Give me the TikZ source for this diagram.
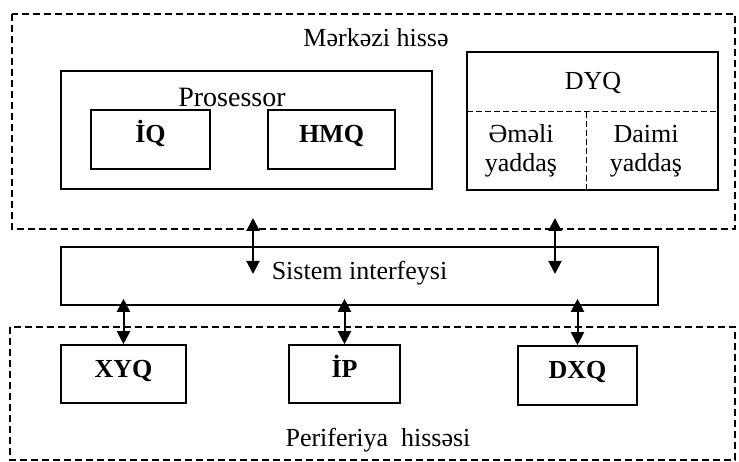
\documentclass[tikz,border=0pt]{standalone}
\usepackage{fontspec}
\setmainfont{Liberation Serif}
\usetikzlibrary{arrows.meta,positioning}
\tikzset{
  blk/.style={draw, line width=1.6pt, inner sep=0pt, text height=0.68em, text depth=0pt,
    font=\fontsize{26}{29}\selectfont\bfseries},
  area/.style={draw, line width=1.4pt, dash pattern=on 7pt off 4pt},
  part/.style={draw, line width=1pt, dash pattern=on 6pt off 3pt},
  lbl/.style={anchor=base, font=\fontsize{26}{29}\selectfont},
  dbl/.style={line width=2pt, {Triangle[length=13pt,width=13pt]}-{Triangle[length=13pt,width=13pt]}}
}

\begin{document}
\begin{tikzpicture}[x=1pt,y=-1pt]
		\useasboundingbox (0,0) rectangle (739,462);
		%%%%% MERKEZI HISSE %%%%%
		\draw[area] (12,14) rectangle (735,229);
		\node[lbl] (mrk) at (376,47) {Mərkəzi hissə};
		
		\node[blk, minimum width=371pt, minimum height=118pt] (proc) at (246.5,130) {};
		\node[lbl, font=\fontsize{28}{30}\selectfont] (proclbl) at (232,107) {Prosessor};
		\node[blk, minimum width=119pt, minimum height=59pt] (iq) at (150.5,139.5) {İQ};
		\node[blk, minimum width=127pt, minimum height=59pt] (hmq) at (331.5,139.5) {HMQ};
		
		\node[blk, minimum width=251pt, minimum height=138pt] (dyq) at (592.5,121) {};
		\node[lbl] (dyqlbl) at (593,90) {DYQ};
		\coordinate (dl) at (467,112);
		\coordinate (dm) at (586,112);
		\draw[part] (dl) -- (dl -| dyq.east);
		\draw[part] (dm) -- (dm |- dyq.south);
		\node[lbl, align=center] (oper) at (521,172) {Əməli\\yaddaş};
		\node[lbl, align=center] (daimi) at (646,172) {Daimi\\yaddaş};
		
		%%%%% SISTEM INTERFEYSI %%%%%
		\node[blk, font=\fontsize{26}{29}\selectfont, minimum width=597pt, minimum height=58pt] (sis) at (359.5,276) {Sistem interfeysi};
		\coordinate (up1) at (253,218);
		\coordinate (dn1) at (253,274);
		\coordinate (up2) at (555,218);
		\coordinate (dn2) at (555,274);
		\draw[dbl] (up1) -- (dn1);
		\draw[dbl] (up2) -- (dn2);
		
		%%%%% PERIFERIYA HISSESI %%%%%
		\draw[area] (10,327) rectangle (735,460);
		\node[lbl] (per) at (378,446) {Periferiya\ \ hissəsi};
		\node[blk, minimum width=125pt, minimum height=58pt] (xyq) at (123.5,374) {XYQ};
		\node[blk, minimum width=111pt, minimum height=58pt] (ip) at (344.5,374) {İP};
		\node[blk, minimum width=119pt, minimum height=59pt] (dxq) at (577.5,375.5) {DXQ};
		
		\draw[dbl] ([yshift=7pt]sis.south -| xyq) -- (xyq.north);
		\draw[dbl] ([yshift=7pt]sis.south -| ip) -- (ip.north);
		\draw[dbl] ([yshift=7pt]sis.south -| dxq) -- (dxq.north);
		%%%%% END %%%%%
\end{tikzpicture}
\end{document}
